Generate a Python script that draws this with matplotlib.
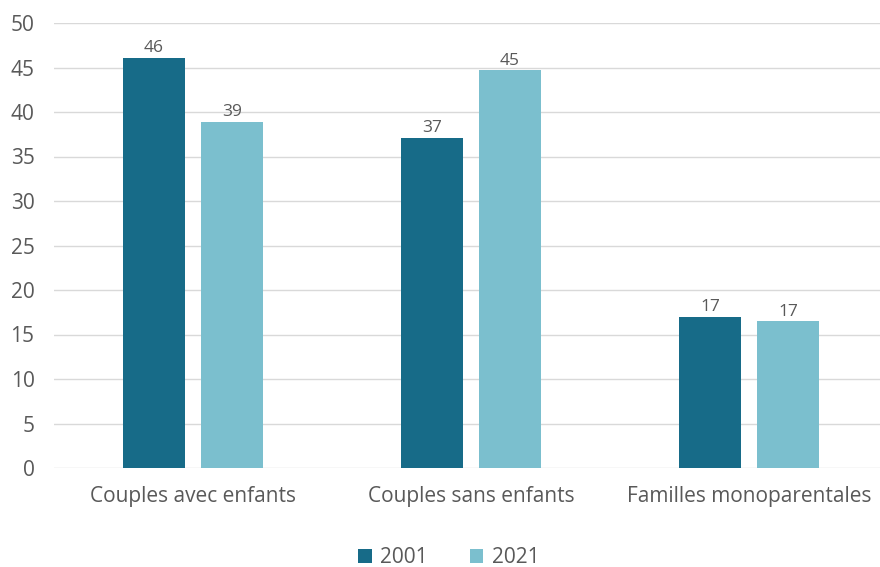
import matplotlib.pyplot as plt
import numpy as np

categories = ["Couples avec enfants", "Couples sans enfants", "Familles monoparentales"]
values_2001 = [46.1, 37.1, 17.0]
values_2021 = [38.9, 44.7, 16.5]
labels_2001 = ["46", "37", "17"]
labels_2021 = ["39", "45", "17"]

plt.rcParams['font.family'] = ['Open Sans', 'DejaVu Sans']
text_color = "#595959"

fig = plt.figure(figsize=(8.8, 5.67), dpi=100)
ax = fig.add_axes([54 / 880, 99 / 567, 834 / 880, 445 / 567])

x = np.arange(len(categories))
width = 0.223
off = 0.14
b1 = ax.bar(x - off, values_2001, width, color="#176B88", label="2001", zorder=3)
b2 = ax.bar(x + off, values_2021, width, color="#7BBFCE", label="2021", zorder=3)

for bars, labels in ((b1, labels_2001), (b2, labels_2021)):
    for bar, lab in zip(bars, labels):
        ax.annotate(lab, (bar.get_x() + bar.get_width() / 2, bar.get_height()),
                    xytext=(0, 1), textcoords="offset points", ha="center", va="bottom",
                    fontsize=12.5, color=text_color)

ax.set_xlim(-0.5, 2.5)
ax.set_ylim(0, 50)
ax.set_yticks(range(0, 51, 5))
ax.set_xticks(x)
ax.set_xticklabels(categories)
ax.tick_params(axis="both", length=0, labelsize=15, colors=text_color)
ax.tick_params(axis="x", pad=13)
ax.tick_params(axis="y", pad=14)
ax.grid(axis="y", color="#D9D9D9", linewidth=1, zorder=0)
for s in ax.spines.values():
    s.set_visible(False)

fig.legend(loc="lower center", bbox_to_anchor=(0.51, -0.035), ncol=2, frameon=False,
           fontsize=15, labelcolor=text_color, handlelength=0.65, handleheight=0.65,
           columnspacing=2.0, handletextpad=0.4)

fig.savefig("out.png")
